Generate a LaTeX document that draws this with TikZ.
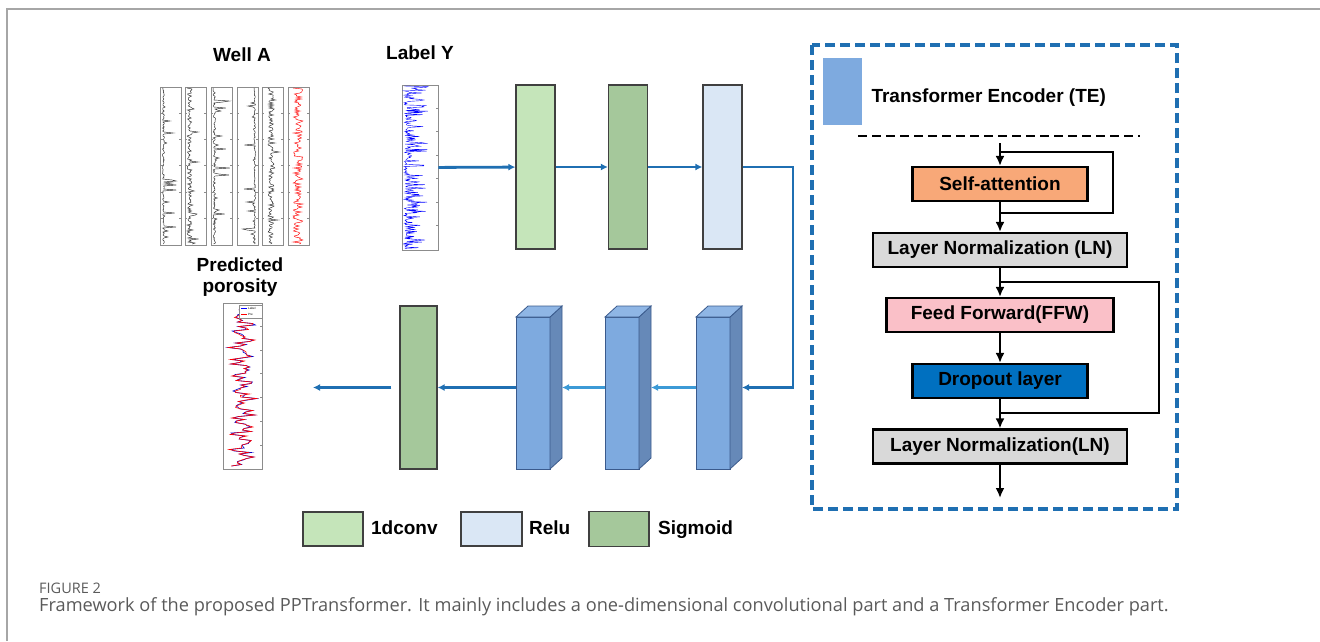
\documentclass[tikz,border=0pt]{standalone}
\usepackage{fontspec}
\setmainfont{Liberation Sans}
\newfontfamily\capfont{Open Sans}
\usetikzlibrary{positioning,arrows.meta}

\definecolor{convgreen}{HTML}{C5E5BA}
\definecolor{siggreen}{HTML}{A5C89B}
\definecolor{relublue}{HTML}{DAE7F5}
\definecolor{tefront}{HTML}{7EAADF}
\definecolor{tetop}{HTML}{8FB6E5}
\definecolor{teside}{HTML}{6689B8}
\definecolor{tedge}{HTML}{3A5A8C}
\definecolor{flowblue}{HTML}{1F6FB2}
\definecolor{lightflow}{HTML}{3C9AD6}
\definecolor{saorange}{HTML}{F8A878}
\definecolor{ffwpink}{HTML}{FAC0C8}
\definecolor{dropblue}{HTML}{0070C0}
\definecolor{lngray}{HTML}{D9D9D9}
\definecolor{capgray}{HTML}{5A5A5A}

\tikzset{
  title/.style={font=\bfseries\fontsize{19}{21}\selectfont},
  keytext/.style={title, text height=14pt, text depth=4pt},
  layer/.style={draw=black!75, line width=1.2pt, minimum width=39pt, minimum height=164pt, inner sep=0pt},
  cube/.style={minimum width=46pt, minimum height=163pt, inner sep=0pt, outer sep=0pt},
  cubeline/.style={draw=tedge, line width=0.8pt},
  panel/.style={draw=black!45, line width=0.8pt, minimum width=21pt, minimum height=158pt, inner sep=0pt},
  flow/.style={-{Latex[length=7pt,width=7pt]}, draw=flowblue, line width=2.8pt},
  lightarrow/.style={-{Latex[length=7pt,width=7pt]}, draw=lightflow, line width=2.8pt},
  tebox/.style={draw, line width=2.2pt, minimum height=34pt, inner sep=0pt, title},
  teline/.style={line width=2.4pt},
  teflow/.style={-{Latex[length=10pt,width=9pt]}, line width=2.4pt},
}

\begin{document}
\begin{tikzpicture}[x=1pt,y=-1pt]
\useasboundingbox (0,0) rectangle (1320,641);
\draw[black!35, line width=1.5pt] (7,641) -- (7,9) -- (1320,9);
\pgfmathsetseed{11}

% input logs
\node[title] (wellA) at (242,55) {Well A};
\foreach \x [count=\i] in {171,195.5,221.5,247.5,272.5,298.5}{
  \node[panel] (log\i) at (\x,166) {};
  \foreach \k in {1,...,5}{
    \draw[black!45, line width=0.5pt] ([yshift=-\k*26.3pt]log\i.north west) -- ++(2.5,0);
    \draw[black!45, line width=0.5pt] ([yshift=-\k*26.3pt]log\i.north east) -- ++(-2.5,0);
  }
}
\foreach \lx/\off/\amp/\spk/\col in {160.5/2/2/15/black!85, 185/2/5/9/black!85, 211/2/2.5/16/black!85,
    237/17/1.5/-14/black!85, 262/6/6/7/black!85, 288/5/10/0/red}
  \draw[\col, line width=0.45pt] ({\lx+\off},88) \foreach \t in {1,...,156}
    { -- ({\lx+\off+\amp*rnd+\spk*pow(rnd,20)},{88+\t}) };

\node[title] (ytitle) at (420,53) {Label Y};
\node[panel, minimum width=36pt, minimum height=165pt] (ylog) at (420,167.5) {};
\foreach \k in {1,...,6}
  \draw[black!45, line width=0.5pt] ([yshift=-\k*23.5pt]ylog.north east) -- ++(-2.5,0);
\draw[blue, line width=0.4pt] (404,86) \foreach \t in {1,...,232}
  { -- ({404+3*rnd+24*pow(rnd,3)},{86+0.7*\t}) };

\node[title, align=center] (ptitle) at (240,277) {Predicted\\porosity};
\node[panel, minimum width=39pt, minimum height=166pt] (pred) at (242.5,386) {};
\foreach \k in {1,...,6}
  \draw[black!45, line width=0.5pt] ([yshift=-\k*23.7pt]pred.north east) -- ++(-2.5,0);
\draw[blue!80!black, line width=0.6pt] (242,307) \foreach \t in {1,...,106}
  { -- ({242.5+6*sin(37*\t)+5*sin(101*\t+20)+4*sin(131*\t)+2*rand},{307+1.5*\t}) };
\draw[red, line width=0.6pt] (242,307) \foreach \t in {1,...,106}
  { -- ({242.5+6*sin(37*\t)+5*sin(101*\t+20)+4*sin(131*\t)+2*rand},{307+1.5*\t}) };
\draw[black!45, line width=0.4pt, fill=white] (239,305) rectangle (262,318);
\draw[blue, line width=0.4pt] (241,308.5) -- (247,308.5);
\draw[red, line width=0.4pt] (241,314.5) -- (247,314.5);
\node[font=\fontsize{3}{3}\selectfont, anchor=west, inner sep=0pt] at (248,308.5) {Label};
\node[font=\fontsize{3}{3}\selectfont, anchor=west, inner sep=0pt] at (248,314.5) {Pre};

% 1d convolution part
\node[layer, fill=convgreen] (conv) at (535.5,167) {};
\node[layer, fill=siggreen] (sig) at (628,167) {};
\node[layer, fill=relublue] (relu) at (722.5,167) {};
\draw[flow] (ylog) -- (conv);
\draw[flow] (conv) -- (sig);
\draw[flow] (sig) -- (relu);

% encoder blocks
\foreach \n/\x in {te1/539, te2/628, te3/719}
  \node[cube] (\n) at (\x,387.5) {};
\foreach \n in {te1,te2,te3}{
  \draw[cubeline, fill=tefront] (\n.south west) rectangle ([xshift=-12pt,yshift=-11pt]\n.north east);
  \draw[cubeline, fill=teside] ([xshift=-12pt]\n.south east) -- ([xshift=-12pt,yshift=-11pt]\n.north east)
    -- (\n.north east) -- ([yshift=11pt]\n.south east) -- cycle;
  \draw[cubeline, fill=tetop] ([yshift=-11pt]\n.north west) -- ([xshift=12pt]\n.north west)
    -- (\n.north east) -- ([xshift=-12pt,yshift=-11pt]\n.north east) -- cycle;
}
\node[layer, fill=siggreen, minimum width=37pt, minimum height=163pt] (sigout) at (418.5,387.5) {};
\coordinate (turn) at (793,280);
\coordinate (outend) at (313,387.5);
\draw[flow] (relu.east) -| (turn) |- (te3.east);
\draw[lightarrow] (te3.west) -- (te2.east);
\draw[lightarrow] (te2.west) -- (te1.east);
\draw[flow] (te1.west) -- (sigout.east);
\draw[flow, shorten <=8pt] (sigout.west) -- (outend);

% transformer encoder detail
\draw[flowblue, line width=3.2pt, dash pattern=on 10pt off 5pt] (812,45) rectangle (1177,509);
\node[fill=tefront, minimum width=39pt, minimum height=67pt, inner sep=0pt] (tekey) at (842.5,91.5) {};
\node[title, anchor=west] (tename) at (868,98) {Transformer Encoder (TE)};
\coordinate (sepA) at (858,136);
\coordinate (sepB) at (1140,136);
\draw[line width=2.6pt, dash pattern=on 9pt off 5pt] (sepA) -- (sepB);

\node[tebox, fill=saorange, minimum width=175pt] (sa) at (1000,184) {Self-attention};
\node[tebox, fill=lngray, minimum width=254pt] (lnA) at (1000,250) {Layer Normalization (LN)};
\node[tebox, fill=ffwpink, minimum width=227pt] (ffw) at (1000,315) {Feed Forward(FFW)};
\node[tebox, fill=dropblue, minimum width=175pt] (drop) at (1000,381) {Dropout layer};
\node[tebox, fill=lngray, minimum width=254pt] (lnB) at (1000,446.5) {Layer Normalization(LN)};

\coordinate (tetop) at (1000,143);
\coordinate (res1) at (1000,152);
\coordinate (skip1) at (1113,180);
\coordinate (join1) at (1000,213);
\coordinate (res2) at (1000,282);
\coordinate (skip2) at (1159,350);
\coordinate (join2) at (1000,413);
\coordinate (teout) at (1000,498);
\draw[teflow] (tetop) -- (sa);
\draw[teline] (res1) -| (skip1) |- (join1);
\draw[teflow] (sa) -- (lnA);
\draw[teflow] (lnA) -- (ffw);
\draw[teline] (res2) -| (skip2) |- (join2);
\draw[teflow] (ffw) -- (drop);
\draw[teflow] (drop) -- (lnB);
\draw[teflow] (lnB) -- (teout);

% legend
\node[layer, fill=convgreen, minimum width=60pt, minimum height=34pt] (keyconv) at (333,529) {};
\node[keytext, right=4pt of keyconv] {1dconv};
\node[layer, fill=relublue, minimum width=61pt, minimum height=34pt] (keyrelu) at (491.5,529) {};
\node[keytext, right=3pt of keyrelu] {Relu};
\node[layer, fill=siggreen, minimum width=60pt, minimum height=35pt] (keysig) at (619,529) {};
\node[keytext, right=5pt of keysig] {Sigmoid};

% caption
\node[color=capgray, font=\capfont\fontsize{14.5}{16}\selectfont, anchor=west, inner sep=0pt] (fignum) at (39,588) {FIGURE 2};
\node[color=capgray, font=\capfont\fontsize{18.2}{20}\selectfont, anchor=west, inner sep=0pt] (caption) at (39,607)
  {Framework of the proposed PPTransformer. It mainly includes a one-dimensional convolutional part and a Transformer Encoder part.};
\end{tikzpicture}
\end{document}
